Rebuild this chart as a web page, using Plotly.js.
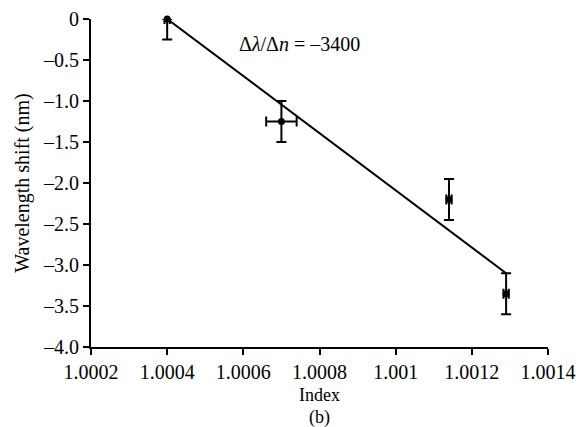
<!DOCTYPE html>
<html><head><meta charset="utf-8">
<script src="https://cdn.plot.ly/plotly-3.0.1.min.js"></script>
<style>html,body{margin:0;padding:0;background:#fff}</style>
</head><body><div id="chart" style="width:586px;height:427px"></div>
<script>
const indexVals = [1.0004, 1.0007, 1.00114, 1.00129];
const shiftVals = [0, -1.25, -2.2, -3.35];
const shiftErrUp = [0, 0.25, 0.25, 0.25];
const shiftErrDown = [0.25, 0.25, 0.25, 0.25];
const indexErr = [0.000007, 0.00004, 0.000007, 0.000007];
const fitX = [1.0004, 1.00129];
const fitY = [0, -3.1];
const xTickVals = [1.0002, 1.0004, 1.0006, 1.0008, 1.001, 1.0012, 1.0014];
const xTickText = ["1.0002", "1.0004", "1.0006", "1.0008", "1.001", "1.0012", "1.0014"];
const yTickVals = [0, -0.5, -1, -1.5, -2, -2.5, -3, -3.5, -4];
const yTickText = ["0", "\u20130.5", "\u20131.0", "\u20131.5", "\u20132.0", "\u20132.5", "\u20133.0", "\u20133.5", "\u20134.0"];

const FAMILY = 'Liberation Serif';
const f = s => ({family: FAMILY, size: s, color: '#000'});

const traces = [
  {x: fitX, y: fitY, mode: 'lines', line: {color: '#000', width: 2}, hoverinfo: 'skip', cliponaxis: false},
  {x: indexVals, y: shiftVals, mode: 'markers', marker: {color: '#000', size: 7},
   cliponaxis: false,
   error_y: {type: 'data', symmetric: false, array: shiftErrUp, arrayminus: shiftErrDown, color: '#000', thickness: 2, width: 5},
   error_x: {type: 'data', array: indexErr, color: '#000', thickness: 2, width: 5}}
];

const layout = {
  width: 586, height: 427,
  margin: {l: 91, r: 38, t: 19, b: 80},
  paper_bgcolor: '#fff', plot_bgcolor: '#fff',
  showlegend: false,
  font: f(20),
  xaxis: {range: [1.0002, 1.0014], tickvals: xTickVals, ticktext: xTickText,
    showline: true, linecolor: '#000', linewidth: 2, ticks: 'outside', tickwidth: 2, ticklen: 6, tickcolor: '#000',
    showgrid: false, zeroline: false, tickfont: f(20),
    title: {text: 'Index', font: f(18), standoff: 6}},
  yaxis: {range: [-4, 0], tickvals: yTickVals, ticktext: yTickText,
    showline: true, linecolor: '#000', linewidth: 2, ticks: 'outside', tickwidth: 2, ticklen: 6, tickcolor: '#000',
    showgrid: false, zeroline: false, tickfont: f(20),
    title: {text: 'Wavelength shift (nm)', font: f(20), standoff: 8}},
  annotations: [
    {x: 1.000747, y: -0.305, xref: 'x', yref: 'y', showarrow: false,
     text: '\u0394<i>\u03bb</i>/\u0394<i>n</i> = \u20133400', font: f(20)},
    {x: 0.5, y: 0, xref: 'paper', yref: 'paper', yanchor: 'middle', yshift: -70, showarrow: false,
     text: '(b)', font: f(18)}
  ]
};
Plotly.newPlot('chart', traces, layout, {displayModeBar: false, staticPlot: true});
</script></body></html>
